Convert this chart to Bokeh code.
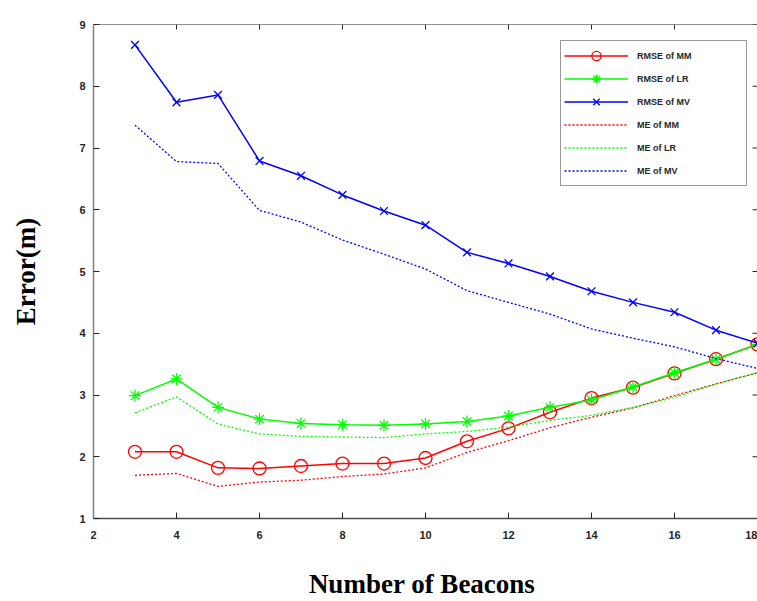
from bokeh.plotting import figure
from bokeh.models import FixedTicker, Legend, LegendItem, Range1d, Span
from bokeh.embed import file_html
from bokeh.resources import INLINE

beacons = [3, 4, 5, 6, 7, 8, 9, 10, 11, 12, 13, 14, 15, 16, 17, 18]
rmse_mm = [2.08, 2.08, 1.82, 1.81, 1.85, 1.89, 1.89, 1.98, 2.25, 2.46, 2.72, 2.95, 3.12, 3.35, 3.58, 3.82]
rmse_lr = [2.99, 3.26, 2.80, 2.61, 2.54, 2.52, 2.51, 2.53, 2.57, 2.66, 2.80, 2.92, 3.13, 3.36, 3.58, 3.82]
rmse_mv = [8.67, 7.74, 7.86, 6.79, 6.55, 6.24, 5.98, 5.75, 5.31, 5.13, 4.92, 4.68, 4.50, 4.34, 4.05, 3.84]
me_mm = [1.70, 1.73, 1.52, 1.59, 1.62, 1.68, 1.72, 1.82, 2.07, 2.26, 2.47, 2.64, 2.79, 2.99, 3.18, 3.36]
me_lr = [2.71, 2.97, 2.53, 2.37, 2.33, 2.32, 2.31, 2.37, 2.41, 2.48, 2.59, 2.67, 2.80, 2.96, 3.18, 3.36]
me_mv = [7.37, 6.78, 6.75, 5.99, 5.80, 5.51, 5.28, 5.04, 4.69, 4.50, 4.31, 4.07, 3.92, 3.78, 3.59, 3.43]

x_ticks = [2, 4, 6, 8, 10, 12, 14, 16, 18]
y_ticks = [1, 2, 3, 4, 5, 6, 7, 8, 9]
labels = ["RMSE of MM", "RMSE of LR", "RMSE of MV", "ME of MM", "ME of LR", "ME of MV"]
x_title = "Number  of Beacons"
y_title = "Error(m)"

X0, X1, Y0, Y1 = 2, 18, 1, 9
RED, GREEN, BLUE = "#ff0000", "#00ff00", "#0000ff"
AX = "#262626"
FRAME_W, FRAME_H = 664, 494

p = figure(width=757, height=601, output_backend="svg", toolbar_location=None,
           x_range=Range1d(X0, X1), y_range=Range1d(Y0, Y1),
           x_axis_label=x_title, y_axis_label=y_title,
           min_border_left=93, min_border_right=0, min_border_top=24, min_border_bottom=83)
p.grid.visible = False
p.outline_line_color = None
p.background_fill_color = "white"
p.border_fill_color = "white"

for ax, ticks in ((p.xaxis[0], x_ticks), (p.yaxis[0], y_ticks)):
    ax.ticker = FixedTicker(ticks=ticks)
    ax.major_tick_in = 6
    ax.major_tick_out = 0
    ax.minor_tick_line_color = None
    ax.axis_line_width = 1.5
    ax.major_tick_line_color = AX
    ax.major_label_text_font = "Liberation Sans"
    ax.major_label_text_font_style = "bold"
    ax.major_label_text_font_size = "11px"
    ax.major_label_text_color = AX
    ax.axis_label_text_font = "Liberation Serif"
    ax.axis_label_text_font_style = "bold"
    ax.axis_label_text_font_size = "27px"
    ax.axis_label_text_color = "black"

p.xaxis[0].axis_line_color = "#4d4d4d"
p.yaxis[0].axis_line_color = "#808080"
p.xaxis[0].major_label_standoff = 12
p.xaxis[0].axis_label_standoff = 27
p.yaxis[0].major_label_standoff = 8
p.yaxis[0].axis_label_standoff = 35

# top edge and inward ticks on top and right
p.add_layout(Span(location=Y1, dimension="width", line_color=AX, line_width=1.2))
tl_y = (Y1 - Y0) * 5 / FRAME_H
tl_x = (X1 - X0) * 5 / FRAME_W
p.segment(x0=x_ticks, y0=[Y1] * len(x_ticks), x1=x_ticks, y1=[Y1 - tl_y] * len(x_ticks),
          line_color=AX, line_width=1)
p.segment(x0=[X1] * len(y_ticks), y0=y_ticks, x1=[X1 - tl_x] * len(y_ticks), y1=y_ticks,
          line_color=AX, line_width=1)

lw = 1.5
l1 = p.line(beacons, rmse_mm, line_color=RED, line_width=lw)
s1 = p.scatter(beacons, rmse_mm, marker="circle", size=13, fill_color=None, line_color=RED, line_width=1.3)
l2 = p.line(beacons, rmse_lr, line_color=GREEN, line_width=lw)
s2 = p.scatter(beacons, rmse_lr, marker="asterisk", size=12, line_color=GREEN, line_width=1.3)
l3 = p.line(beacons, rmse_mv, line_color=BLUE, line_width=lw)
s3 = p.scatter(beacons, rmse_mv, marker="x", size=11, line_color=BLUE, line_width=1.3)
d1 = p.line(beacons, me_mm, line_color=RED, line_width=1.3, line_dash="2 2")
d2 = p.line(beacons, me_lr, line_color=GREEN, line_width=1.3, line_dash="2 2")
d3 = p.line(beacons, me_mv, line_color=BLUE, line_width=1.3, line_dash="2 2")

items = [
    LegendItem(label=labels[0], renderers=[l1, s1]),
    LegendItem(label=labels[1], renderers=[l2, s2]),
    LegendItem(label=labels[2], renderers=[l3, s3]),
    LegendItem(label=labels[3], renderers=[d1]),
    LegendItem(label=labels[4], renderers=[d2]),
    LegendItem(label=labels[5], renderers=[d3]),
]
legend = Legend(items=items, location=(467, 332), margin=0, padding=3, spacing=0,
                glyph_width=64, glyph_height=23, label_height=23, label_width=106,
                label_standoff=9, label_text_font="Liberation Sans", label_text_font_style="bold",
                label_text_font_size="9px", label_text_color=AX,
                border_line_color="#333333", border_line_width=1,
                background_fill_color="white", background_fill_alpha=1)
p.add_layout(legend, "center")

open("out.html", "w").write(file_html(p, INLINE))
